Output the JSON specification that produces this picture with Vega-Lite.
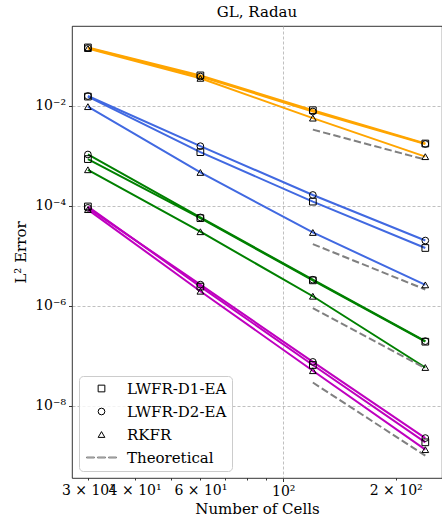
{
  "$schema": "https://vega.github.io/schema/vega-lite/v6.json",
  "width": 370,
  "height": 452,
  "autosize": "none",
  "padding": {"left": 72, "top": 26, "right": 0, "bottom": 40},
  "title": {"text": "GL, Radau", "font": "DejaVu Serif", "fontSize": 15, "fontWeight": "normal", "color": "#000", "offset": 6},
  "config": {
    "view": {"stroke": "#000", "strokeWidth": 0.8},
    "axis": {
      "domain": false,
      "labelFont": "DejaVu Serif",
      "labelFontSize": 14,
      "labelColor": "#000",
      "titleFont": "DejaVu Serif",
      "titleFontSize": 15,
      "titleFontWeight": "normal",
      "titleColor": "#000",
      "tickColor": "#000",
      "tickWidth": 0.8,
      "gridColor": "#b0b0b0",
      "gridDash": [3, 2],
      "gridWidth": 0.8
    }
  },
  "datasets": {
    "errors": [
      {"degree": "1", "method": "LWFR-D1-EA", "cells": 30, "error": 0.145},
      {"degree": "1", "method": "LWFR-D1-EA", "cells": 60, "error": 0.040},
      {"degree": "1", "method": "LWFR-D1-EA", "cells": 120, "error": 0.00805},
      {"degree": "1", "method": "LWFR-D1-EA", "cells": 240, "error": 0.00174},
      {"degree": "1", "method": "LWFR-D2-EA", "cells": 30, "error": 0.141},
      {"degree": "1", "method": "LWFR-D2-EA", "cells": 60, "error": 0.038},
      {"degree": "1", "method": "LWFR-D2-EA", "cells": 120, "error": 0.0076},
      {"degree": "1", "method": "LWFR-D2-EA", "cells": 240, "error": 0.0017},
      {"degree": "1", "method": "RKFR", "cells": 30, "error": 0.138},
      {"degree": "1", "method": "RKFR", "cells": 60, "error": 0.035},
      {"degree": "1", "method": "RKFR", "cells": 120, "error": 0.0056},
      {"degree": "1", "method": "RKFR", "cells": 240, "error": 0.00095},
      {"degree": "2", "method": "LWFR-D1-EA", "cells": 30, "error": 0.0151},
      {"degree": "2", "method": "LWFR-D1-EA", "cells": 60, "error": 0.00117},
      {"degree": "2", "method": "LWFR-D1-EA", "cells": 120, "error": 0.00012},
      {"degree": "2", "method": "LWFR-D1-EA", "cells": 240, "error": 0.0000142},
      {"degree": "2", "method": "LWFR-D2-EA", "cells": 30, "error": 0.0155},
      {"degree": "2", "method": "LWFR-D2-EA", "cells": 60, "error": 0.00154},
      {"degree": "2", "method": "LWFR-D2-EA", "cells": 120, "error": 0.000163},
      {"degree": "2", "method": "LWFR-D2-EA", "cells": 240, "error": 0.00002},
      {"degree": "2", "method": "RKFR", "cells": 30, "error": 0.0095},
      {"degree": "2", "method": "RKFR", "cells": 60, "error": 0.00046},
      {"degree": "2", "method": "RKFR", "cells": 120, "error": 0.000029},
      {"degree": "2", "method": "RKFR", "cells": 240, "error": 0.0000026},
      {"degree": "3", "method": "LWFR-D1-EA", "cells": 30, "error": 0.00085},
      {"degree": "3", "method": "LWFR-D1-EA", "cells": 60, "error": 0.000056},
      {"degree": "3", "method": "LWFR-D1-EA", "cells": 120, "error": 0.0000032},
      {"degree": "3", "method": "LWFR-D1-EA", "cells": 240, "error": 1.9e-7},
      {"degree": "3", "method": "LWFR-D2-EA", "cells": 30, "error": 0.00105},
      {"degree": "3", "method": "LWFR-D2-EA", "cells": 60, "error": 0.000058},
      {"degree": "3", "method": "LWFR-D2-EA", "cells": 120, "error": 0.0000033},
      {"degree": "3", "method": "LWFR-D2-EA", "cells": 240, "error": 1.95e-7},
      {"degree": "3", "method": "RKFR", "cells": 30, "error": 0.00052},
      {"degree": "3", "method": "RKFR", "cells": 60, "error": 0.00003},
      {"degree": "3", "method": "RKFR", "cells": 120, "error": 0.00000154},
      {"degree": "3", "method": "RKFR", "cells": 240, "error": 5.8e-8},
      {"degree": "4", "method": "LWFR-D1-EA", "cells": 30, "error": 0.000096},
      {"degree": "4", "method": "LWFR-D1-EA", "cells": 60, "error": 0.0000024},
      {"degree": "4", "method": "LWFR-D1-EA", "cells": 120, "error": 6.5e-8},
      {"degree": "4", "method": "LWFR-D1-EA", "cells": 240, "error": 1.85e-9},
      {"degree": "4", "method": "LWFR-D2-EA", "cells": 30, "error": 0.00009},
      {"degree": "4", "method": "LWFR-D2-EA", "cells": 60, "error": 0.00000263},
      {"degree": "4", "method": "LWFR-D2-EA", "cells": 120, "error": 7.5e-8},
      {"degree": "4", "method": "LWFR-D2-EA", "cells": 240, "error": 2.25e-9},
      {"degree": "4", "method": "RKFR", "cells": 30, "error": 0.000083},
      {"degree": "4", "method": "RKFR", "cells": 60, "error": 0.00000194},
      {"degree": "4", "method": "RKFR", "cells": 120, "error": 5.0e-8},
      {"degree": "4", "method": "RKFR", "cells": 240, "error": 1.32e-9}
    ],
    "theory": [
      {"degree": "1", "cells": 120, "error": 0.0033},
      {"degree": "1", "cells": 240, "error": 0.00083},
      {"degree": "2", "cells": 120, "error": 0.000017},
      {"degree": "2", "cells": 240, "error": 0.0000021},
      {"degree": "3", "cells": 120, "error": 8.9e-7},
      {"degree": "3", "cells": 240, "error": 5.6e-8},
      {"degree": "4", "cells": 120, "error": 2.9e-8},
      {"degree": "4", "cells": 240, "error": 1.0e-9}
    ]
  },
  "encoding": {
    "x": {
      "field": "cells",
      "type": "quantitative",
      "scale": {"type": "log", "domain": [27.2, 266], "nice": false, "zero": false},
      "axis": {
        "title": "Number of Cells",
        "values": [30, 40, 50, 60, 70, 80, 90, 100, 200],
        "labelExpr": "datum.value == 30 ? '3 × 10¹' : datum.value == 40 ? '4 × 10¹' : datum.value == 60 ? '6 × 10¹' : datum.value == 100 ? '10²' : datum.value == 200 ? '2 × 10²' : ''",
        "labelOverlap": false,
        "labelFlush": false,
        "labelPadding": 3,
        "titlePadding": 3,
        "grid": true,
        "gridOpacity": {"condition": {"test": "datum.value == 100", "value": 1}, "value": 0},
        "tickSize": {"condition": {"test": "datum.value == 100", "value": 3.5}, "value": 2}
      }
    },
    "y": {
      "field": "error",
      "type": "quantitative",
      "scale": {"type": "log", "domain": [3.58e-10, 0.389], "nice": false, "zero": false},
      "axis": {
        "title": "L² Error",
        "values": [1e-8, 1e-6, 1e-4, 1e-2],
        "labelExpr": "round(log(datum.value)/LN10) == -2 ? '10⁻²' : round(log(datum.value)/LN10) == -4 ? '10⁻⁴' : round(log(datum.value)/LN10) == -6 ? '10⁻⁶' : '10⁻⁸'",
        "labelOverlap": false,
        "labelFlush": false,
        "labelPadding": 3,
        "titlePadding": 6,
        "grid": true,
        "tickSize": 3.5
      }
    }
  },
  "layer": [
    {
      "data": {"name": "errors"},
      "mark": {"type": "line", "strokeWidth": 2},
      "encoding": {
        "color": {
          "field": "degree",
          "type": "nominal",
          "scale": {"domain": ["1", "2", "3", "4"], "range": ["#ffa500", "#4169e1", "#008000", "#bf00bf"]},
          "legend": null
        },
        "detail": {"field": "method", "type": "nominal"}
      }
    },
    {
      "data": {"name": "theory"},
      "mark": {"type": "line", "strokeWidth": 2, "strokeDash": [7.4, 3.2], "color": "#808080"},
      "encoding": {
        "detail": {"field": "degree", "type": "nominal"}
      }
    },
    {
      "data": {"name": "errors"},
      "mark": {"type": "point", "filled": false, "size": 45, "strokeWidth": 1, "opacity": 1},
      "encoding": {
        "shape": {
          "field": "method",
          "type": "nominal",
          "scale": {
            "domain": ["LWFR-D1-EA", "LWFR-D2-EA", "RKFR", "Theoretical"],
            "range": ["square", "circle", "triangle-up", "M-4.47,-0.14H-2.1V0.14H-4.47Z M-1.2,-0.14H1.2V0.14H-1.2Z M2.1,-0.14H4.47V0.14H2.1Z"]
          },
          "legend": {
            "title": null, "orient": "bottom-left", "offset": 7, "padding": 5,
            "fillColor": "rgba(255,255,255,0.8)", "strokeColor": "#cccccc", "cornerRadius": 4,
            "labelFont": "DejaVu Serif", "labelFontSize": 15, "labelColor": "#000",
            "symbolSize": 45, "symbolStrokeWidth": 1, "symbolOffset": 10, "labelOffset": 18, "rowPadding": 7
          }
        },
        "stroke": {
          "field": "method",
          "type": "nominal",
          "scale": {
            "domain": ["LWFR-D1-EA", "LWFR-D2-EA", "RKFR", "Theoretical"],
            "range": ["#000000", "#000000", "#000000", "#808080"]
          },
          "legend": {
            "title": null, "orient": "bottom-left", "offset": 7, "padding": 5,
            "fillColor": "rgba(255,255,255,0.8)", "strokeColor": "#cccccc", "cornerRadius": 4,
            "labelFont": "DejaVu Serif", "labelFontSize": 15, "labelColor": "#000",
            "symbolSize": 45, "symbolStrokeWidth": 1, "symbolOffset": 10, "labelOffset": 18, "rowPadding": 7
          }
        }
      }
    }
  ]
}
